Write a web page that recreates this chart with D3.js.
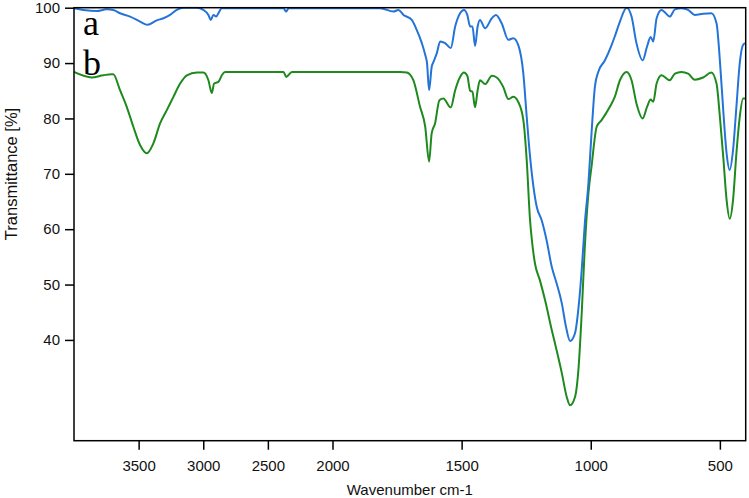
<!DOCTYPE html>
<html><head><meta charset="utf-8">
<script src="https://cdn.jsdelivr.net/npm/d3@7"></script>
<style>body{margin:0;background:#fff}svg{display:block}</style>
</head><body>
<script>
// Data
const xTicks = [3500, 3000, 2500, 2000, 1500, 1000, 500];
const yTicks = [40, 50, 60, 70, 80, 90, 100];
const seriesNames = ["a", "b"];

const wnA = [4000,3928,3824,3747,3696,3644,3566,3489,3432,3360,3308,3257,3205,3154,3050,2999,2960,2942,2921,2900,2883,2856,2379,2358,2340,2000,1815,1764,1745,1725,1693,1674,1654,1641,1634,1626,1616,1609,1596,1583,1564,1542,1525,1506,1491,1478,1467,1458,1448,1438,1429,1409,1383,1367,1345,1319,1300,1281,1261,1248,1235,1222,1209,1190,1171,1151,1132,1112,1096,1080,1061,1047,1035,1023,1009,997,984,971,945,919,907,887,861,842,823,799,782,768,758,745,726,694,674,649,623,597,565,533,513,500,487,474,462,449,436,423,410,401];
const tA =  [99.9,99.6,99.4,99.7,99.6,99.0,98.4,97.5,96.9,97.7,98.1,98.7,99.6,100,100,99.6,98.7,97.8,98.7,98.4,99.0,99.9,99.9,99.3,99.9,99.9,99.9,99.3,99.6,98.7,97.8,96.0,93.6,91.5,90.0,85.1,89.3,90.2,91.8,93.9,93.6,92.7,96.6,99.0,99.6,98.7,96.6,96.6,93.1,96.6,97.8,96.3,98.1,98.7,97.2,94.2,94.5,93.3,88.1,80.3,73.1,67.7,64.0,61.6,58.0,53.2,50.2,46.6,42.4,39.8,41.2,46.0,52.6,61.0,68.3,77.3,85.7,88.4,90.5,93.3,94.8,97.5,100,98.4,93.6,90.5,93.0,94.7,93.9,98.1,99.6,98.4,99.7,99.9,99.6,98.7,98.9,99.0,97.2,90.5,81.5,73.7,70.7,74.3,82.1,90.0,93.3,93.6];

const wnB = [4000,3863,3773,3708,3696,3644,3592,3541,3489,3437,3386,3334,3282,3231,3179,3127,3050,2999,2960,2934,2916,2883,2856,2831,2379,2358,2314,2000,1738,1712,1687,1661,1641,1626,1616,1603,1586,1571,1542,1525,1506,1491,1478,1467,1458,1448,1438,1429,1409,1383,1364,1339,1319,1300,1281,1261,1248,1235,1229,1216,1197,1177,1151,1132,1112,1093,1080,1061,1047,1035,1023,1009,997,977,958,926,907,887,861,842,823,799,782,768,758,745,726,694,674,649,623,597,565,533,513,500,487,474,462,449,436,423,410,401];
const tB =  [88.4,87.4,87.8,88.0,88.0,85.1,82.1,78.5,75.2,73.7,75.5,79.1,81.5,83.9,86.3,87.8,88.3,88.3,86.9,84.6,86.3,86.6,87.8,88.4,88.4,87.5,88.4,88.4,88.4,88.3,86.9,82.1,78.5,72.2,77.3,79.1,83.3,83.6,82.0,85.1,87.5,88.3,87.7,85.0,84.8,82.0,85.1,86.9,86.2,87.7,87.4,85.7,83.5,83.9,83.0,79.7,72.5,61.6,58.5,53.8,50.8,47.2,41.8,38.1,34.0,29.7,28.2,29.7,35.1,44.8,56.8,66.5,71.3,78.5,79.7,82.1,83.9,86.9,88.4,86.9,82.7,80.0,82.1,83.4,83.0,86.3,87.8,86.9,88.1,88.4,88.1,87.0,87.4,88.3,86.3,80.3,73.1,65.3,61.9,65.3,73.7,80.3,83.6,83.6];

const W = 749, H = 498;
const L = 74, R = 745.7, T = 7.7, B = 440.7;

const svg = d3.select("body").append("svg").attr("width", W).attr("height", H);

const x = d3.scaleLinear().domain([4000, 2000, 400]).range([L, 332.5, R]);
const y = d3.scaleLinear().domain([21.8, 100]).range([B, T]);

svg.append("defs").append("clipPath").attr("id", "clip")
  .append("rect").attr("x", L).attr("y", T - 1).attr("width", R - L).attr("height", B - T + 1);

const line = d3.line().x(d => x(d[0])).y(d => y(d[1])).curve(d3.curveMonotoneX);

const g = svg.append("g").attr("clip-path", "url(#clip)");
g.append("path").datum(d3.zip(wnB, tB)).attr("d", line)
  .attr("fill", "none").attr("stroke", "#1e8a1e").attr("stroke-width", 2);
g.append("path").datum(d3.zip(wnA, tA)).attr("d", line)
  .attr("fill", "none").attr("stroke", "#2474d8").attr("stroke-width", 2);

// frame
svg.append("rect").attr("x", L).attr("y", T).attr("width", R - L).attr("height", B - T)
  .attr("fill", "none").attr("stroke", "#000").attr("stroke-width", 1.5);

const xAxis = d3.axisBottom(x).tickValues(xTicks).tickSize(9).tickPadding(11).tickFormat(d3.format("d"));
const gx = svg.append("g").attr("transform", `translate(0,${B})`).call(xAxis);
gx.select(".domain").remove();
gx.selectAll("line").attr("stroke-width", 1.5);
gx.selectAll("text").attr("font-family", "Liberation Sans, Arial, sans-serif").attr("font-size", 15).attr("fill", "#111");

const yAxis = d3.axisLeft(y).tickValues(yTicks).tickSize(9).tickPadding(5).tickFormat(d3.format("d"));
const gy = svg.append("g").attr("transform", `translate(${L},0)`).call(yAxis);
gy.select(".domain").remove();
gy.selectAll("line").attr("stroke-width", 1.5);
gy.selectAll("text").attr("font-family", "Liberation Sans, Arial, sans-serif").attr("font-size", 15).attr("fill", "#111");

svg.append("text").attr("x", (L + R) / 2).attr("y", 495)
  .attr("text-anchor", "middle").attr("font-family", "Liberation Sans, Arial, sans-serif")
  .attr("font-size", 15).attr("fill", "#111").text("Wavenumber cm-1");

svg.append("text").attr("transform", "translate(17,174) rotate(-90)")
  .attr("text-anchor", "middle").attr("font-family", "Liberation Sans, Arial, sans-serif")
  .attr("font-size", 16.5).attr("fill", "#111").text("Transmittance [%]");

// series labels
svg.append("text").attr("x", 83).attr("y", 35).attr("font-family", "Liberation Serif, Times New Roman, serif")
  .attr("font-size", 36).attr("fill", "#000").text(seriesNames[0]);
svg.append("text").attr("x", 83).attr("y", 75).attr("font-family", "Liberation Serif, Times New Roman, serif")
  .attr("font-size", 36).attr("fill", "#000").text(seriesNames[1]);
</script>
</body></html>
